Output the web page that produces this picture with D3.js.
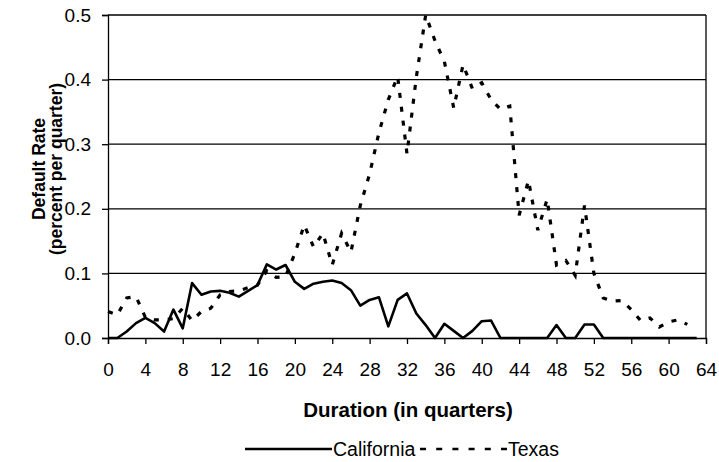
<!DOCTYPE html>
<html>
<head>
<meta charset="utf-8">
<script src="https://cdn.jsdelivr.net/npm/d3@7"></script>
<style>
  body { margin: 0; background: #fff; }
  text { font-family: "Liberation Sans", Arial, sans-serif; fill: #000; }
  .tick text { font-size: 19px; }
  .title { font-weight: bold; }
</style>
</head>
<body>
<div id="chart"></div>
<script>
// quarters 0..63
var quarters = d3.range(0, 64);

var california = [
  0, 0, 0.010, 0.023, 0.031, 0.023, 0.010, 0.044, 0.015, 0.085,
  0.067, 0.072, 0.073, 0.070, 0.064, 0.073, 0.082, 0.114, 0.106, 0.113,
  0.087, 0.076, 0.084, 0.087, 0.089, 0.085, 0.074, 0.050, 0.059, 0.063,
  0.018, 0.059, 0.069, 0.038, 0.020, 0, 0.022, 0.011, 0, 0.011,
  0.026, 0.027, 0, 0, 0, 0, 0, 0, 0.020, 0,
  0, 0.021, 0.021, 0, 0, 0, 0, 0, 0, 0,
  0, 0, 0, 0
];

// texas has 63 points (0..62)
var texas = [
  0.041, 0.036, 0.062, 0.064, 0.032, 0.028, 0.028, 0.030, 0.046, 0.027,
  0.041, 0.046, 0.067, 0.072, 0.073, 0.078, 0.082, 0.104, 0.094, 0.095,
  0.131, 0.175, 0.141, 0.162, 0.113, 0.162, 0.133, 0.205, 0.254, 0.318,
  0.369, 0.405, 0.285, 0.404, 0.500, 0.460, 0.428, 0.356, 0.423, 0.386,
  0.395, 0.369, 0.354, 0.359, 0.190, 0.244, 0.167, 0.215, 0.113, 0.120,
  0.097, 0.205, 0.100, 0.062, 0.057, 0.058, 0.044, 0.027, 0.031, 0.017,
  0.025, 0.028, 0.021
];

var xTicks = d3.range(0, 65, 4);
var yTicks = [0, 0.1, 0.2, 0.3, 0.4, 0.5];

var W = 719, H = 462;
var margin = {top: 15, right: 13, bottom: 122, left: 108};

var svg = d3.select("#chart").append("svg")
  .attr("width", W)
  .attr("height", H);

var x = d3.scaleLinear().domain([0, 64]).range([margin.left, W - margin.right]);
var y = d3.scaleLinear().domain([0, 0.5]).range([H - margin.bottom - 2, margin.top]);

// gridlines
svg.append("g")
  .selectAll("line")
  .data(yTicks.slice(1))
  .enter().append("line")
    .attr("x1", x(0)).attr("x2", x(64))
    .attr("y1", function(d) { return y(d); })
    .attr("y2", function(d) { return y(d); })
    .attr("stroke", "#000")
    .attr("stroke-width", 1.3);

// right border
svg.append("line")
  .attr("x1", x(64)).attr("x2", x(64))
  .attr("y1", y(0.5)).attr("y2", y(0))
  .attr("stroke", "#000").attr("stroke-width", 1.3);

// Add X axis
var xAxis = svg.append("g")
  .attr("transform", "translate(0," + y(0) + ")")
  .call(d3.axisBottom(x).tickValues(xTicks).tickSize(6).tickPadding(19).tickFormat(d3.format("d")));

// Add Y axis
var yAxis = svg.append("g")
  .attr("transform", "translate(" + x(0) + ",0)")
  .call(d3.axisLeft(y).tickValues(yTicks).tickSize(6).tickPadding(11).tickFormat(d3.format(".1f")));

[xAxis, yAxis].forEach(function(a) {
  a.select(".domain").attr("stroke", "#000").attr("stroke-width", 1.3);
  a.selectAll(".tick line").attr("stroke", "#000").attr("stroke-width", 1.3);
  a.selectAll(".tick text").attr("font-size", null);
});

var line = function(vals) {
  return d3.line()
    .x(function(d, i) { return x(quarters[i]); })
    .y(function(d) { return y(d); })(vals);
};

svg.append("path")
  .attr("d", line(california))
  .attr("fill", "none")
  .attr("stroke", "#000")
  .attr("stroke-width", 2.6)
  .attr("stroke-linejoin", "round");

svg.append("path")
  .attr("d", line(texas))
  .attr("fill", "none")
  .attr("stroke", "#000")
  .attr("stroke-width", 3.2)
  .attr("stroke-dasharray", "5,9");

// axis titles
svg.append("text")
  .attr("class", "title")
  .attr("transform", "translate(45,169) rotate(-90)")
  .attr("text-anchor", "middle")
  .attr("font-size", 17.5)
  .text("Default Rate");

svg.append("text")
  .attr("class", "title")
  .attr("transform", "translate(62,169) rotate(-90)")
  .attr("text-anchor", "middle")
  .attr("font-size", 17.5)
  .text("(percent per quarter)");

svg.append("text")
  .attr("class", "title")
  .attr("x", 408)
  .attr("y", 417)
  .attr("text-anchor", "middle")
  .attr("font-size", 20.5)
  .text("Duration (in quarters)");

// legend
var legend = svg.append("g");
legend.append("line")
  .attr("x1", 245).attr("x2", 332).attr("y1", 449).attr("y2", 449)
  .attr("stroke", "#000").attr("stroke-width", 2.6);
legend.append("text")
  .attr("x", 333).attr("y", 456)
  .attr("font-size", 19.5)
  .text("California");
legend.append("line")
  .attr("x1", 420).attr("x2", 507).attr("y1", 449).attr("y2", 449)
  .attr("stroke", "#000").attr("stroke-width", 2.6)
  .attr("stroke-dasharray", "6,10.2");
legend.append("text")
  .attr("x", 508).attr("y", 456)
  .attr("font-size", 19.5)
  .text("Texas");
</script>
</body>
</html>
